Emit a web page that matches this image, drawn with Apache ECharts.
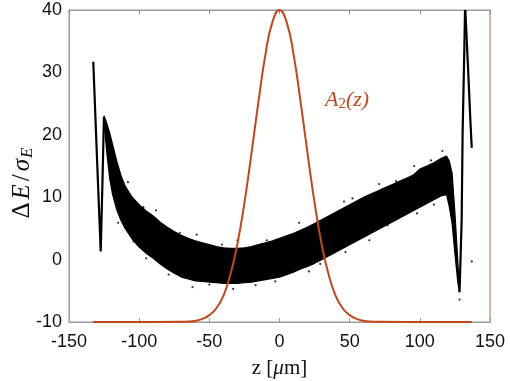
<!DOCTYPE html>
<html>
<head>
<meta charset="utf-8">
<script src="https://cdn.jsdelivr.net/npm/echarts@6/dist/echarts.min.js"></script>
<style>
  html, body { margin: 0; padding: 0; background: #fff; }
  #chart { width: 510px; height: 381px; }
</style>
</head>
<body>
<div id="chart"></div>
<script>
// x ticks / y ticks
var xTicks = [-150, -100, -50, 0, 50, 100, 150];
var yTicks = [-10, 0, 10, 20, 30, 40];

// main band of particles: z, upper and lower edge of the dense cloud
var bandZ = [-125, -123, -121, -119, -116, -113, -110, -105, -100, -95, -90, -85, -80, -75, -70, -65, -60,
  -55, -50, -45, -40, -35, -30, -25, -20, -15, -10, -5, 0, 5, 10, 15, 20, 25, 30, 35, 40, 45, 50, 55, 60,
  65, 70, 75, 80, 85, 90, 95, 100, 105, 110, 115, 119, 121, 123, 125, 127, 128.2];
var bandUpper = [23, 21.8, 20.3, 18.5, 15.8, 13.5, 11.8, 10, 8.8, 7.8, 7, 6, 5.2, 4.5, 3.9, 3.4, 3,
  2.7, 2.4, 2.1, 1.9, 1.8, 1.8, 1.9, 2.1, 2.4, 2.7, 3, 3.4, 3.8, 4.2, 4.7, 5.2, 5.8, 6.4, 7, 7.6, 8.2, 8.8, 9.4, 10,
  10.5, 11, 11.5, 12, 12.5, 13, 13.5, 14.5, 15, 15.5, 16.2, 16.6, 15.8, 13.8, 7.5, 0, -5];
var bandLower = [22, 17, 13, 10.5, 8, 6.3, 5, 3.3, 2, 1, 0.2, -0.7, -1.5, -2.2, -2.8, -3.1, -3.4,
  -3.5, -3.6, -3.7, -3.8, -3.8, -3.8, -3.7, -3.6, -3.4, -3.2, -3, -2.8, -2.4, -2, -1.5, -1.1, -0.6, 0, 0.6, 1.2, 1.8, 2.4, 3, 3.6,
  4.2, 4.8, 5.4, 6, 6.6, 7.2, 7.8, 8.4, 9, 9.6, 10.2, 10.4, 8.5, 5.8, 1, -3.5, -5.2];

// thin streaks at the head and tail of the bunch
var leftStreak = [[-132.7, 31.7], [-130, 16], [-127.4, 1.3], [-126.2, 12], [-125.1, 22.9]];
var rightStreakUp = [[128.3, -5.2], [129.8, 6.3], [130.5, 20.5], [131.7, 33.6], [132.2, 40]];
var rightStreakDown = [[132.4, 40], [134.3, 31], [136, 22.4], [137, 17.9]];

// loose particles just outside the band
var strayPoints = [[-108, 12.4], [-97, 8.4], [-88, 7.9], [-71, 4.3], [-59, 4], [-41, 2.4], [-30, 3.1],
  [-9, 3.1], [14, 5.9], [27, 6.3], [46, 9.3], [52, 9.8], [71, 12.1], [83, 12.6], [96, 15], [108, 15.9],
  [116, 17.4], [-115, 5.9], [-104, 2.9], [-95, 0.2], [-79, -2.4], [-62, -4.4], [-50, -4], [-33, -4.7],
  [-17, -4.1], [-3, -3.5], [21, -1.9], [29, -0.7], [47, 1.2], [64, 3.1], [77, 5.5], [98, 7.4], [110, 8.8],
  [137, -0.3], [128.3, -6.4]];

// A2(z) profile, plotted in left-axis units
var a2Z = [-133, -90, -70, -65, -60, -55, -50, -45, -40, -35, -30, -25, -20, -15, -10, -5, 0,
  5, 10, 15, 20, 25, 30, 35, 40, 45, 50, 55, 60, 65, 70, 90, 137];
var a2Val = [-10, -10, -9.97, -9.93, -9.8, -9.5, -8.9, -7.8, -5.8, -2.4, 2.5, 9.1, 17, 25.3, 32.9, 38.1, 40,
  38.1, 32.9, 25.3, 17, 9.1, 2.5, -2.4, -5.8, -7.8, -8.9, -9.5, -9.8, -9.93, -9.97, -10, -10];

var red = '#c4461a';
var gray = '#9a9a9a';
var chart = echarts.init(document.getElementById('chart'));

var option = {
  animation: false,
  grid: {
    left: 69, top: 10, right: 20, bottom: 59,
    outerBoundsMode: 'none',
    show: true, borderColor: gray, borderWidth: 1, backgroundColor: 'transparent'
  },
  xAxis: [{
    type: 'value', min: xTicks[0], max: xTicks[xTicks.length - 1], interval: 50,
    axisLine: { onZero: false, lineStyle: { color: gray, width: 1 } },
    axisTick: { inside: true, length: 4, lineStyle: { color: gray } },
    axisLabel: { color: '#111', fontSize: 18, fontFamily: 'Liberation Sans', margin: 11 },
    splitLine: { show: false },
    name: '{r|z [}{i|μ}{r|m]}', nameLocation: 'middle', nameGap: 36,
    nameTextStyle: {
      rich: {
        r: { fontFamily: 'Liberation Serif', fontSize: 21, color: '#111' },
        i: { fontFamily: 'Liberation Serif', fontStyle: 'italic', fontSize: 21, color: '#111' }
      }
    }
  }, {
    type: 'value', show: true, position: 'top', min: xTicks[0], max: xTicks[xTicks.length - 1], interval: 50,
    axisLine: { show: true, onZero: false, lineStyle: { color: gray, width: 1 } },
    axisTick: { show: true, inside: true, length: 4, lineStyle: { color: '#888' } },
    axisLabel: { show: false },
    splitLine: { show: false }
  }],
  yAxis: [{
    type: 'value', show: true, min: yTicks[0], max: yTicks[yTicks.length - 1], interval: 10,
    axisLine: { show: true, onZero: false, lineStyle: { color: gray, width: 1 } },
    axisTick: { show: false },
    axisLabel: { color: '#111', fontSize: 18, fontFamily: 'Liberation Sans', margin: 7 },
    splitLine: { show: false }
  }, {
    type: 'value', position: 'right', min: -10, max: 40, interval: 10,
    axisLine: { show: true, onZero: false, lineStyle: { color: '#e4ab90', width: 1.5 } },
    axisTick: { show: false },
    axisLabel: { show: false },
    splitLine: { show: false }
  }],
  graphic: [{
    type: 'text', x: 22, y: 183, rotation: Math.PI / 2,
    style: {
      text: '{d|Δ}{e|E}{sl|/}{g|σ}{s|E}',
      align: 'center', verticalAlign: 'middle',
      rich: {
        d: { fontFamily: 'Liberation Serif', fontSize: 25, fill: '#111', padding: [0, 3, 0, 0] },
        e: { fontFamily: 'Liberation Serif', fontStyle: 'italic', fontSize: 25, fill: '#111', padding: [0, 3, 0, 0] },
        sl: { fontFamily: 'Liberation Serif', fontSize: 25, fill: '#111', padding: [0, 3, 0, 0] },
        g: { fontFamily: 'Liberation Serif', fontStyle: 'italic', fontSize: 25, fill: '#111', padding: [0, 1, 0, 0] },
        s: { fontFamily: 'Liberation Serif', fontStyle: 'italic', fontSize: 17, fill: '#111', padding: [12, 0, 0, 0] }
      }
    }
  }, {
    type: 'text', left: 325, top: 89,
    style: {
      text: '{a|A}{s|2}{a|(z)}',
      rich: {
        a: { fontFamily: 'Liberation Serif', fontStyle: 'italic', fontSize: 22, fill: red },
        s: { fontFamily: 'Liberation Serif', fontSize: 15, fill: red, padding: [8, 0, 0, 0] }
      }
    }
  }],
  series: [{
    type: 'custom',
    data: [[bandZ[0], bandUpper[0]]],
    renderItem: function (params, api) {
      var pts = [];
      for (var i = 0; i < bandZ.length; i++) pts.push(api.coord([bandZ[i], bandUpper[i]]));
      for (var j = bandZ.length - 1; j >= 0; j--) pts.push(api.coord([bandZ[j], bandLower[j]]));
      return {
        type: 'polygon',
        shape: { points: pts },
        style: { fill: '#000', stroke: '#000', lineWidth: 1.2, lineJoin: 'round' }
      };
    },
    z: 2
  }, {
    type: 'line', data: leftStreak, showSymbol: false,
    lineStyle: { color: '#000', width: 2.2 }, z: 3
  }, {
    type: 'line', data: rightStreakUp, showSymbol: false,
    lineStyle: { color: '#000', width: 2.2 }, z: 3
  }, {
    type: 'line', data: rightStreakDown, showSymbol: false,
    lineStyle: { color: '#000', width: 2.2 }, z: 3
  }, {
    type: 'scatter', data: strayPoints, symbolSize: 2.2,
    itemStyle: { color: '#000' }, z: 3
  }, {
    type: 'line', yAxisIndex: 1,
    data: a2Z.map(function (z, i) { return [z, a2Val[i]]; }),
    smooth: true, showSymbol: false,
    lineStyle: { color: red, width: 2 }, z: 5
  }]
};
chart.setOption(option);
</script>
</body>
</html>
